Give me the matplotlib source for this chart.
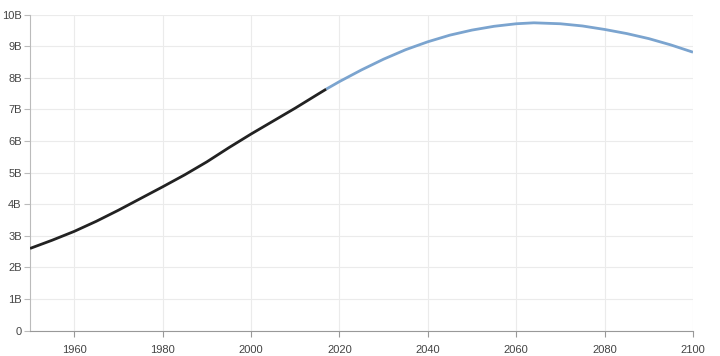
import matplotlib
matplotlib.use("Agg")
import matplotlib.pyplot as plt
from matplotlib.ticker import FuncFormatter

hist_years = [1950, 1955, 1960, 1965, 1970, 1975, 1980, 1985, 1990, 1995, 2000, 2005, 2010, 2015, 2017]
hist_pop = [2.60, 2.86, 3.14, 3.46, 3.81, 4.18, 4.55, 4.93, 5.34, 5.79, 6.22, 6.63, 7.04, 7.47, 7.64]

proj_years = [2017, 2020, 2025, 2030, 2035, 2040, 2045, 2050, 2055, 2060, 2064, 2070, 2075, 2080, 2085, 2090, 2095, 2100]
proj_pop = [7.64, 7.88, 8.25, 8.59, 8.89, 9.14, 9.35, 9.51, 9.63, 9.71, 9.74, 9.71, 9.64, 9.53, 9.40, 9.24, 9.04, 8.81]

x_ticks = [1960, 1980, 2000, 2020, 2040, 2060, 2080, 2100]
y_ticks = [0, 1, 2, 3, 4, 5, 6, 7, 8, 9, 10]

plt.rcParams['font.family'] = ['Liberation Sans', 'DejaVu Sans']

fig = plt.figure(figsize=(7.2, 3.56), dpi=100)
ax = fig.add_axes([0.0417, 0.0713, 0.9208, 0.8877])

ax.plot(proj_years, proj_pop, color='#7ba4cf', lw=2.0, solid_capstyle='butt', zorder=3)
ax.plot(hist_years, hist_pop, color='#222222', lw=2.0, solid_capstyle='butt', zorder=4)

ax.set_xlim(1950, 2100)
ax.set_ylim(0, 10)
ax.set_xticks(x_ticks)
ax.set_yticks(y_ticks)
ax.yaxis.set_major_formatter(FuncFormatter(lambda v, p: '0' if v == 0 else f'{int(v)}B'))

ax.grid(True, color='#ebebeb', lw=0.8)
ax.set_axisbelow(True)
for s in ['top', 'right']:
    ax.spines[s].set_visible(False)
ax.spines['left'].set_color('#bbbbbb')
ax.spines['bottom'].set_color('#999999')
ax.tick_params(axis='both', labelsize=8, colors='#444444', length=4, width=0.8)
ax.tick_params(axis='x', color='#999999', pad=6)
ax.tick_params(axis='y', color='#bbbbbb', pad=2)

fig.savefig('out.png', dpi=100)
